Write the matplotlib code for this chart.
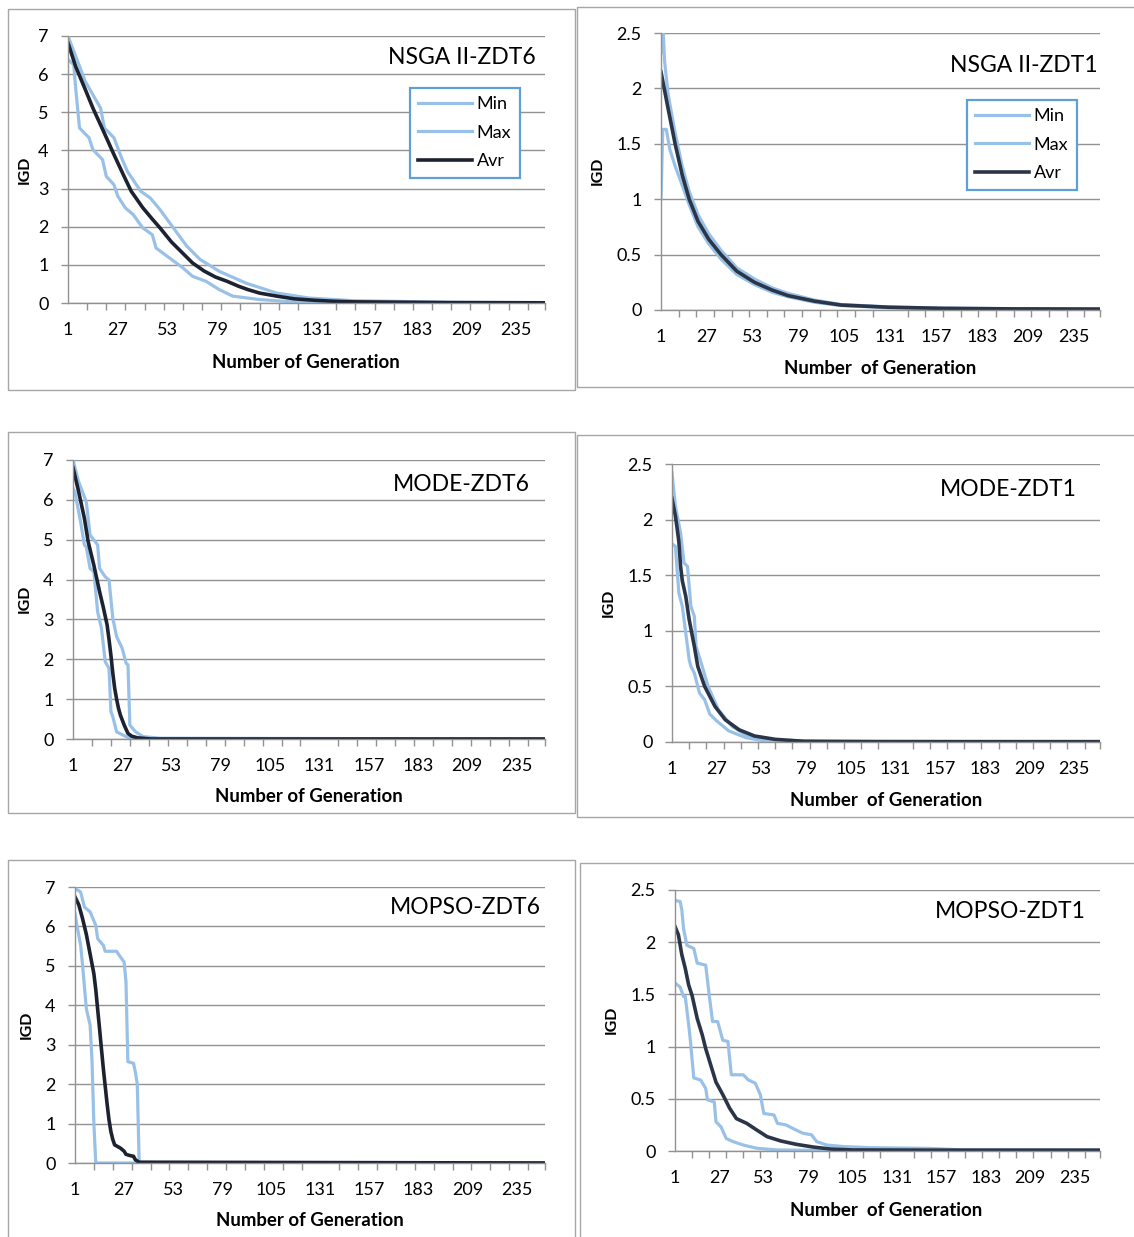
import matplotlib
matplotlib.use('Agg')
import matplotlib.pyplot as plt
from matplotlib.patches import Rectangle

# ---------------- dane ----------------
# NSGA II - ZDT6
nsga6_min_gen = [1, 4, 5, 7, 12, 14, 19, 21, 25, 27, 31, 35, 40, 45, 47, 54, 61, 66, 73, 80, 87, 101, 118, 150, 250]
nsga6_min = [6.38, 6.25, 5.64, 4.59, 4.33, 4.02, 3.76, 3.32, 3.10, 2.80, 2.49, 2.32, 1.97, 1.79, 1.44, 1.18, 0.92,
             0.70, 0.57, 0.35, 0.18, 0.09, 0.03, 0.01, 0.0]
nsga6_max_gen = [1, 6, 10, 14, 18, 20, 25, 29, 32, 39, 44, 49, 56, 63, 70, 80, 94, 110, 127, 150, 200, 250]
nsga6_max = [7.0, 6.34, 5.81, 5.46, 5.11, 4.59, 4.33, 3.80, 3.45, 2.93, 2.75, 2.45, 1.97, 1.49, 1.14, 0.83, 0.52,
             0.26, 0.13, 0.06, 0.02, 0.01]
nsga6_avr_gen = [1, 5, 10, 14, 20, 25, 30, 34, 40, 45, 49, 55, 60, 66, 72, 78, 84, 90, 95, 101, 110, 119, 130,
                 140, 150, 200, 250]
nsga6_avr = [6.82, 6.2, 5.6, 5.11, 4.45, 3.89, 3.35, 2.93, 2.5, 2.2, 1.97, 1.6, 1.35, 1.05, 0.84, 0.68, 0.57, 0.44,
             0.35, 0.26, 0.18, 0.11, 0.07, 0.045, 0.03, 0.01, 0.005]

# NSGA II - ZDT1
nsga1_min_gen = [1, 2, 4, 6, 9, 12, 17, 22, 28, 35, 44, 54, 64, 73, 88, 103, 130, 160, 200, 250]
nsga1_min = [1.0, 1.63, 1.63, 1.45, 1.3, 1.17, 0.95, 0.75, 0.6, 0.46, 0.32, 0.23, 0.16, 0.12, 0.07, 0.04, 0.02,
             0.012, 0.008, 0.006]
nsga1_max_gen = [1, 2, 3, 5, 9, 13, 17, 22, 28, 35, 44, 54, 64, 73, 88, 103, 130, 160, 200, 250]
nsga1_max = [2.32, 2.6, 2.25, 1.95, 1.6, 1.3, 1.07, 0.86, 0.69, 0.54, 0.38, 0.28, 0.2, 0.15, 0.09, 0.05, 0.028,
             0.017, 0.012, 0.01]
nsga1_avr_gen = [1, 5, 9, 13, 17, 22, 28, 35, 44, 54, 64, 73, 88, 103, 130, 160, 200, 250]
nsga1_avr = [2.15, 1.82, 1.5, 1.22, 1.0, 0.8, 0.64, 0.5, 0.35, 0.25, 0.18, 0.13, 0.08, 0.045, 0.025, 0.015, 0.01,
             0.008]

# MODE - ZDT6
mode6_min_gen = [1, 2, 5, 7, 8, 10, 12, 14, 16, 18, 20, 21, 22, 24, 29, 33, 250]
mode6_min = [6.29, 6.2, 5.45, 4.87, 4.82, 4.28, 4.2, 3.19, 2.78, 1.94, 1.77, 0.69, 0.56, 0.18, 0.06, 0.0, 0.0]
mode6_max_gen = [1, 4, 8, 10, 14, 15, 18, 20, 22, 24, 27, 29, 30, 31, 34, 38, 47, 250]
mode6_max = [7.0, 6.45, 5.95, 5.12, 4.87, 4.28, 4.07, 3.99, 3.03, 2.57, 2.27, 1.90, 1.86, 0.35, 0.18, 0.06, 0.02, 0.0]
mode6_avr_gen = [1, 4, 7, 9, 12, 15, 17, 19, 20, 21, 22, 23, 24, 25, 26, 28, 30, 32, 35, 42, 250]
mode6_avr = [6.81, 6.2, 5.54, 4.95, 4.36, 3.7, 3.3, 2.86, 2.5, 2.1, 1.65, 1.27, 1.0, 0.77, 0.6, 0.35, 0.14, 0.07,
             0.03, 0.0, 0.0]

# MODE - ZDT1
mode1_min_gen = [1, 3, 5, 7, 9, 11, 12, 14, 17, 20, 23, 27, 34, 44, 55, 250]
mode1_min = [1.78, 1.76, 1.34, 1.22, 0.98, 0.74, 0.68, 0.62, 0.44, 0.38, 0.25, 0.19, 0.10, 0.039, 0.009, 0.0]
mode1_max_gen = [1, 3, 6, 8, 10, 12, 14, 15, 18, 22, 28, 36, 45, 59, 90, 250]
mode1_max = [2.42, 2.12, 1.88, 1.61, 1.58, 1.22, 1.13, 0.86, 0.71, 0.50, 0.29, 0.14, 0.054, 0.018, 0.005, 0.004]
mode1_avr_gen = [1, 3, 4, 5, 6, 7, 9, 11, 14, 16, 20, 26, 32, 40, 49, 61, 78, 120, 250]
mode1_avr = [2.19, 2.03, 1.92, 1.8, 1.58, 1.45, 1.31, 1.10, 0.86, 0.68, 0.50, 0.32, 0.20, 0.11, 0.054, 0.024, 0.006,
             0.003, 0.003]

# MOPSO - ZDT6
mopso6_min_gen = [1, 2, 4, 5, 7, 9, 10, 11, 12, 250]
mopso6_min = [6.32, 6.03, 5.52, 5.02, 3.92, 3.5, 2.6, 1.0, 0.0, 0.0]
mopso6_max_gen = [1, 4, 6, 9, 12, 13, 16, 17, 23, 25, 27, 28, 29, 32, 33, 34, 35, 250]
mopso6_max = [6.97, 6.87, 6.49, 6.37, 6.03, 5.69, 5.52, 5.37, 5.37, 5.23, 5.1, 4.6, 2.57, 2.53, 2.3, 2.0, 0.0, 0.0]
mopso6_avr_gen = [1, 3, 5, 7, 9, 11, 12, 13, 14, 15, 16, 17, 18, 19, 20, 21, 22, 25, 27, 28, 30, 32, 33, 35, 250]
mopso6_avr = [6.75, 6.55, 6.2, 5.8, 5.3, 4.8, 4.4, 3.9, 3.41, 2.9, 2.4, 1.95, 1.5, 1.1, 0.8, 0.6, 0.46, 0.38, 0.3,
              0.22, 0.19, 0.17, 0.08, 0.02, 0.0]

# MOPSO - ZDT1
mopso1_min_gen = [1, 4, 6, 7, 9, 10, 12, 16, 19, 20, 24, 25, 28, 31, 35, 41, 49, 61, 100, 250]
mopso1_min = [1.61, 1.57, 1.48, 1.48, 1.21, 1.06, 0.70, 0.68, 0.60, 0.49, 0.47, 0.28, 0.23, 0.12, 0.09, 0.057,
              0.026, 0.01, 0.003, 0.0]
mopso1_max_gen = [1, 4, 5, 6, 8, 12, 14, 19, 21, 23, 26, 29, 32, 34, 41, 44, 48, 51, 53, 59, 61, 66, 72, 76, 81, 84,
                  90, 100, 115, 150, 170, 250]
mopso1_max = [2.40, 2.39, 2.31, 2.13, 1.97, 1.94, 1.80, 1.78, 1.5, 1.24, 1.24, 1.06, 1.05, 0.73, 0.73, 0.68, 0.65,
              0.54, 0.36, 0.345, 0.265, 0.25, 0.20, 0.17, 0.155, 0.09, 0.057, 0.042, 0.032, 0.025, 0.01, 0.008]
mopso1_avr_gen = [1, 3, 5, 7, 9, 11, 14, 17, 19, 22, 25, 29, 33, 37, 43, 49, 55, 63, 72, 82, 92, 105, 150, 250]
mopso1_avr = [2.15, 2.07, 1.88, 1.75, 1.59, 1.49, 1.27, 1.11, 0.98, 0.82, 0.66, 0.54, 0.41, 0.31, 0.265, 0.20,
              0.137, 0.096, 0.064, 0.038, 0.019, 0.01, 0.008, 0.008]

x_labels = [1, 27, 53, 79, 105, 131, 157, 183, 209, 235]
zdt6_ticks = [0, 1, 2, 3, 4, 5, 6, 7]
zdt1_ticks = [0, 0.5, 1, 1.5, 2, 2.5]
zdt1_tick_labels = ['0', '0.5', '1', '1.5', '2', '2.5']

# ---------------- styl ----------------
W, H = 1134, 1237
LIGHT = '#99c1e7'
DARK_L = '#1d2230'
DARK_R = '#2a3548'
GRID = '#929292'
FRAME = '#a6a6a6'

plt.rcParams['font.family'] = ['Lato', 'DejaVu Sans']

fig = plt.figure(figsize=(W / 100, H / 100), dpi=100)


def fig_rect(l, t, r, b):
    # piksele -> wspolrzedne figury
    return [l / W, 1 - b / H, (r - l) / W, (b - t) / H]


def fig_xy(x, y):
    return x / W, 1 - y / H


def draw_panel(box, frame, gmin, vmin, gmax, vmax, gavr, vavr, ymax, yticks, ylabels, dark,
               title, title_xy, xlabel, xlabel_xy, ylabel_xy, legend_xy=None):
    l, t, r, b = frame
    fig.patches.append(Rectangle((l / W, 1 - b / H), (r - l) / W, (b - t) / H, transform=fig.transFigure,
                                 fill=False, edgecolor=FRAME, lw=1.0))
    ax = fig.add_axes(fig_rect(*box))
    ax.plot(gmin, vmin, color=LIGHT, lw=2.3, label='Min', solid_joinstyle='round')
    ax.plot(gmax, vmax, color=LIGHT, lw=2.3, label='Max', solid_joinstyle='round')
    ax.plot(gavr, vavr, color=dark, lw=2.6, label='Avr', solid_joinstyle='round')
    ax.set_xlim(1, 250)
    ax.set_ylim(0, ymax)
    ax.set_yticks(yticks)
    ax.set_yticklabels(ylabels)
    ax.set_xticks(x_labels)
    ax.set_xticklabels([str(v) for v in x_labels])
    ax.set_xticks(list(range(1, 251, 10)) + [250], minor=True)
    ax.tick_params(axis='x', which='major', length=0, pad=14, labelsize=13, colors='black')
    ax.tick_params(axis='x', which='minor', length=5, width=1, color=GRID, direction='out')
    ax.tick_params(axis='y', length=5, width=1, color=GRID, pad=9, labelsize=13)
    ax.grid(axis='y', color=GRID, lw=1.0)
    ax.set_axisbelow(True)
    for s in ['top', 'right']:
        ax.spines[s].set_visible(False)
    ax.spines['left'].set_color(GRID)
    ax.spines['bottom'].set_color(GRID)
    ax.spines['left'].set_linewidth(1.0)
    ax.spines['bottom'].set_linewidth(1.0)

    fig.text(*fig_xy(*title_xy), title, ha='right', va='center', fontsize=16.5)
    fig.text(*fig_xy(*xlabel_xy), xlabel, ha='center', va='center', fontsize=13.4, fontweight='bold')
    fig.text(*fig_xy(*ylabel_xy), 'IGD', ha='center', va='center', rotation=90, fontsize=11.5,
             fontweight='bold')

    if legend_xy is not None:
        leg = ax.legend(loc='upper left', bbox_to_anchor=fig_xy(*legend_xy), bbox_transform=fig.transFigure,
                        fontsize=13, frameon=True, fancybox=False, framealpha=1, borderaxespad=0,
                        handlelength=3.0, handletextpad=0.25, labelspacing=0.7, borderpad=0.45)
        leg.get_frame().set_edgecolor('#5f9fd8')
        leg.get_frame().set_linewidth(1.6)
    return ax


draw_panel((68, 36, 545, 303), (8, 9, 575, 390), nsga6_min_gen, nsga6_min, nsga6_max_gen, nsga6_max,
           nsga6_avr_gen, nsga6_avr, 7, zdt6_ticks, [str(v) for v in zdt6_ticks], DARK_L,
           'NSGA II-ZDT6', (536, 58), 'Number of Generation', (306, 362), (25, 170), legend_xy=(410, 88))

draw_panel((661, 33, 1100, 310), (577, 7, 1137, 387), nsga1_min_gen, nsga1_min, nsga1_max_gen, nsga1_max,
           nsga1_avr_gen, nsga1_avr, 2.5, zdt1_ticks, zdt1_tick_labels, DARK_R,
           'NSGA II-ZDT1', (1098, 66), 'Number  of Generation', (880, 368), (598, 171), legend_xy=(967, 100))

draw_panel((73, 460, 545, 739), (8, 432, 575, 813), mode6_min_gen, mode6_min, mode6_max_gen, mode6_max,
           mode6_avr_gen, mode6_avr, 7, zdt6_ticks, [str(v) for v in zdt6_ticks], DARK_L,
           'MODE-ZDT6', (530, 484), 'Number of Generation', (309, 797), (25, 599))

draw_panel((672, 464, 1100, 742), (577, 435, 1137, 817), mode1_min_gen, mode1_min, mode1_max_gen, mode1_max,
           mode1_avr_gen, mode1_avr, 2.5, zdt1_ticks, zdt1_tick_labels, DARK_R,
           'MODE-ZDT1', (1077, 489), 'Number  of Generation', (886, 800), (609, 603))

draw_panel((75, 887, 545, 1163), (8, 860, 575, 1241), mopso6_min_gen, mopso6_min, mopso6_max_gen, mopso6_max,
           mopso6_avr_gen, mopso6_avr, 7, zdt6_ticks, [str(v) for v in zdt6_ticks], DARK_L,
           'MOPSO-ZDT6', (541, 908), 'Number of Generation', (310, 1221), (27, 1025))

draw_panel((675, 890, 1100, 1151), (580, 863, 1137, 1241), mopso1_min_gen, mopso1_min, mopso1_max_gen, mopso1_max,
           mopso1_avr_gen, mopso1_avr, 2.5, zdt1_ticks, zdt1_tick_labels, DARK_R,
           'MOPSO-ZDT1', (1086, 912), 'Number  of Generation', (886, 1210), (612, 1020))

fig.savefig('out.png', dpi=100)
